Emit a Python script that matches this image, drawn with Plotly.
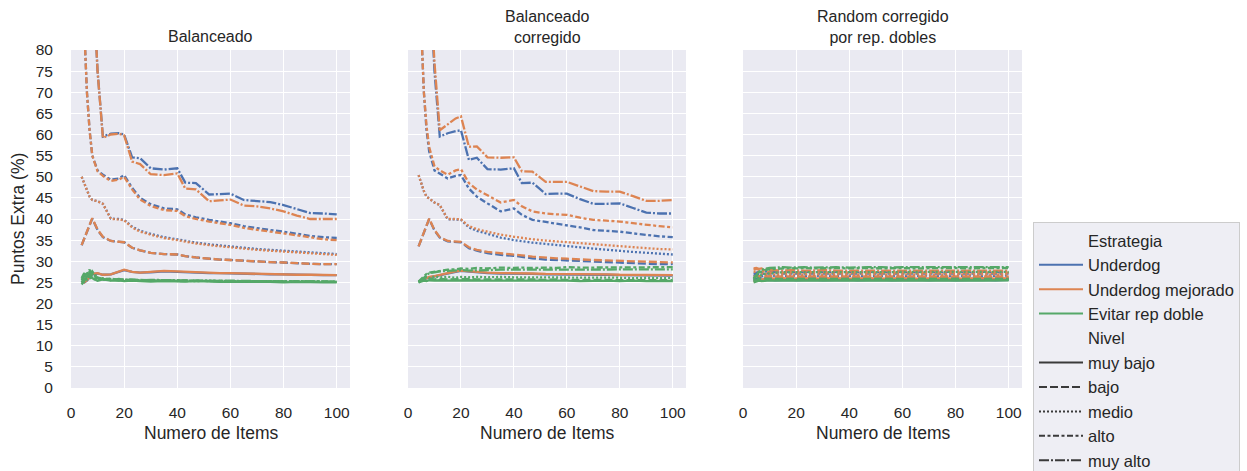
import plotly.graph_objects as go

W, H = 1247, 471

# ---------------- data ----------------
X = [4, 5, 6, 7, 8, 10, 12, 15, 18, 20, 23, 26, 30, 35, 40, 43, 47, 52, 56, 60, 65, 70, 75, 80, 85, 90, 95, 100]

STRATS = ["Underdog", "Underdog mejorado", "Evitar rep doble"]
LEVELS = ["muy bajo", "bajo", "medio", "alto", "muy alto"]
PANEL_TITLES = ["Balanceado", "Balanceado<br>corregido", "Random corregido<br>por rep. dobles"]
X_TICKS = [0, 20, 40, 60, 80, 100]
Y_TICKS = [0, 5, 10, 15, 20, 25, 30, 35, 40, 45, 50, 55, 60, 65, 70, 75, 80]

# Panel 1: Balanceado
bal_und_muybajo = [25.2, 25.0, 25.4, 26.2, 26.9, 27.1, 26.8, 26.9, 27.4, 27.9, 27.5, 27.3, 27.4, 27.6, 27.5, 27.4, 27.3, 27.2, 27.2, 27.1, 27.0, 27.0, 26.9, 26.9, 26.8, 26.8, 26.7, 26.7]
bal_und_bajo = [33.8, 35.5, 37.2, 38.8, 40.1, 37.4, 35.7, 34.8, 34.6, 34.5, 33.2, 32.6, 32.0, 31.7, 31.6, 31.2, 30.9, 30.6, 30.4, 30.3, 30.1, 30.0, 29.8, 29.7, 29.5, 29.4, 29.3, 29.3]
bal_und_medio = [50.0, 48.5, 46.8, 45.3, 44.5, 44.2, 43.6, 40.1, 40.0, 39.8, 38.2, 37.2, 36.5, 35.7, 35.2, 34.8, 34.4, 34.0, 33.7, 33.5, 33.2, 32.9, 32.7, 32.5, 32.2, 32.0, 31.8, 31.7]
bal_und_alto = [100, 84, 70, 61, 55, 51.5, 50.5, 49.3, 49.6, 50.4, 47.4, 45.0, 43.5, 42.5, 42.3, 41.1, 40.4, 39.8, 39.4, 39.0, 38.3, 37.8, 37.4, 37.0, 36.5, 36.0, 35.7, 35.5]
bal_und_muyalto = [160, 150, 135, 120, 100, 75, 59.5, 60.2, 60.3, 60.0, 54.6, 54.4, 52.0, 51.7, 52.0, 48.6, 48.5, 45.8, 45.9, 46.0, 44.5, 44.3, 44.0, 43.3, 42.3, 41.4, 41.3, 41.1]

bal_mej_muybajo = [25.3, 25.0, 25.5, 26.3, 27.0, 27.2, 26.8, 26.9, 27.5, 28.0, 27.5, 27.3, 27.5, 27.7, 27.6, 27.5, 27.4, 27.3, 27.2, 27.2, 27.1, 27.0, 26.9, 26.9, 26.8, 26.8, 26.7, 26.7]
bal_mej_bajo = [33.8, 35.5, 37.2, 38.8, 40.2, 37.5, 35.8, 34.8, 34.6, 34.5, 33.2, 32.6, 32.0, 31.7, 31.6, 31.2, 30.9, 30.6, 30.4, 30.3, 30.1, 30.0, 29.8, 29.7, 29.5, 29.4, 29.3, 29.3]
bal_mej_medio = [50.0, 48.5, 46.8, 45.3, 44.5, 44.2, 43.6, 40.0, 39.9, 39.7, 38.0, 37.0, 36.3, 35.5, 35.0, 34.6, 34.2, 33.8, 33.5, 33.3, 33.0, 32.7, 32.5, 32.3, 32.0, 31.8, 31.6, 31.5]
bal_mej_alto = [100, 84, 70, 61, 55, 51.3, 50.2, 49.0, 49.3, 50.0, 47.0, 44.6, 43.1, 42.1, 41.9, 40.7, 40.0, 39.4, 39.0, 38.6, 37.9, 37.4, 37.0, 36.6, 36.1, 35.6, 35.2, 35.0]
bal_mej_muyalto = [160, 150, 135, 120, 100, 75, 59.2, 60.0, 60.2, 59.8, 53.6, 53.0, 50.6, 50.4, 50.8, 47.2, 47.0, 44.2, 44.4, 44.6, 43.2, 43.0, 42.5, 41.8, 40.8, 40.0, 40.0, 40.0]

bal_evi_muybajo = [24.5, 25.3, 26.3, 27.2, 26.0, 25.4, 25.7, 25.4, 25.5, 25.3, 25.4, 25.3, 25.2, 25.3, 25.2, 25.2, 25.3, 25.2, 25.1, 25.2, 25.1, 25.1, 25.1, 25.0, 25.1, 25.0, 25.0, 25.0]
bal_evi_bajo = [25.5, 26.4, 27.6, 26.4, 25.5, 26.2, 25.6, 25.8, 25.4, 25.6, 25.5, 25.4, 25.5, 25.4, 25.4, 25.3, 25.4, 25.3, 25.3, 25.3, 25.2, 25.3, 25.2, 25.2, 25.2, 25.2, 25.1, 25.1]
bal_evi_medio = [26.0, 25.0, 26.8, 27.5, 27.0, 25.8, 26.0, 25.6, 25.7, 25.5, 25.6, 25.5, 25.4, 25.5, 25.4, 25.4, 25.3, 25.4, 25.3, 25.3, 25.3, 25.2, 25.3, 25.2, 25.2, 25.2, 25.2, 25.2]
bal_evi_alto = [25.0, 26.0, 27.0, 28.0, 26.8, 26.2, 25.7, 25.9, 25.6, 25.7, 25.5, 25.6, 25.5, 25.4, 25.5, 25.4, 25.4, 25.3, 25.4, 25.3, 25.3, 25.3, 25.2, 25.3, 25.2, 25.2, 25.2, 25.2]
bal_evi_muyalto = [26.0, 27.2, 25.5, 26.5, 27.6, 26.0, 25.8, 25.5, 25.8, 25.6, 25.7, 25.5, 25.6, 25.5, 25.4, 25.5, 25.4, 25.4, 25.3, 25.4, 25.3, 25.3, 25.3, 25.2, 25.3, 25.2, 25.2, 25.2]

# Panel 2: Balanceado corregido
cor_und_muybajo = [25.1, 25.4, 25.7, 25.9, 26.2, 26.4, 26.7, 27.2, 27.5, 27.7, 27.5, 27.4, 27.2, 27.1, 27.1, 27.0, 27.0, 26.9, 26.9, 26.9, 26.8, 26.8, 26.8, 26.7, 26.7, 26.7, 26.6, 26.6]
cor_und_bajo = [33.5, 35.2, 37.0, 38.6, 40.0, 37.3, 35.6, 34.7, 34.6, 34.5, 33.1, 32.5, 31.9, 31.5, 31.3, 31.0, 30.7, 30.4, 30.3, 30.2, 30.0, 29.9, 29.7, 29.6, 29.5, 29.4, 29.3, 29.3]
cor_und_medio = [50.4, 48.5, 46.6, 45.3, 44.8, 43.9, 43.3, 39.9, 39.9, 39.8, 38.0, 37.2, 36.5, 35.6, 35.0, 34.7, 34.4, 34.1, 33.9, 33.7, 33.3, 33.0, 32.7, 32.4, 32.2, 32.0, 31.8, 31.6]
cor_und_alto = [100, 84, 70, 61, 56, 51.5, 50.8, 49.6, 50.2, 50.4, 47.2, 45.3, 43.7, 41.8, 42.5, 41.0, 39.8, 39.3, 38.9, 38.6, 38.0, 37.4, 37.2, 37.0, 36.6, 36.2, 35.9, 35.7]
cor_und_muyalto = [160, 150, 135, 120, 100, 75, 59.5, 60.3, 60.8, 61.0, 54.0, 54.5, 51.8, 51.7, 52.0, 48.5, 48.6, 45.9, 46.0, 46.0, 44.7, 43.6, 43.6, 43.7, 42.6, 41.5, 41.3, 41.3]

cor_mej_muybajo = [25.2, 25.5, 25.8, 26.0, 26.3, 26.5, 26.8, 27.3, 27.6, 27.8, 27.6, 27.5, 27.3, 27.2, 27.2, 27.1, 27.1, 27.0, 27.0, 27.0, 26.9, 26.9, 26.9, 26.8, 26.8, 26.8, 26.7, 26.7]
cor_mej_bajo = [33.5, 35.2, 37.0, 38.6, 40.1, 37.4, 35.7, 34.8, 34.7, 34.6, 33.3, 32.7, 32.2, 31.9, 31.7, 31.4, 31.1, 30.8, 30.7, 30.6, 30.4, 30.3, 30.2, 30.1, 29.9, 29.8, 29.7, 29.7]
cor_mej_medio = [50.4, 48.5, 46.6, 45.3, 44.8, 43.9, 43.3, 40.0, 40.0, 39.9, 38.3, 37.6, 37.0, 36.3, 35.8, 35.5, 35.2, 34.9, 34.7, 34.5, 34.2, 34.0, 33.7, 33.5, 33.3, 33.1, 32.9, 32.8]
cor_mej_alto = [100, 84, 70, 62, 57, 52.5, 51.5, 50.5, 51.5, 51.8, 48.5, 47.0, 45.7, 43.9, 44.5, 43.0, 41.8, 41.3, 41.1, 41.0, 40.3, 39.8, 39.6, 39.4, 39.0, 38.6, 38.3, 38.0]
cor_mej_muyalto = [160, 150, 135, 120, 100, 77, 61.0, 62.5, 63.8, 64.3, 57.1, 57.2, 54.6, 54.5, 54.6, 51.3, 51.2, 48.8, 48.8, 48.8, 47.7, 46.6, 46.5, 46.5, 45.4, 44.3, 44.3, 44.5]

cor_evi_muybajo = [25.0, 25.2, 25.4, 25.3, 25.5, 25.4, 25.5, 25.4, 25.5, 25.4, 25.5, 25.4, 25.4, 25.5, 25.4, 25.4, 25.4, 25.4, 25.4, 25.4, 25.3, 25.4, 25.4, 25.3, 25.4, 25.3, 25.3, 25.3]
cor_evi_bajo = [25.2, 25.5, 25.8, 25.6, 25.9, 25.7, 25.8, 25.7, 25.8, 25.7, 25.8, 25.7, 25.7, 25.8, 25.7, 25.7, 25.7, 25.6, 25.7, 25.6, 25.6, 25.6, 25.6, 25.6, 25.6, 25.5, 25.6, 25.5]
cor_evi_medio = [25.0, 25.5, 26.0, 26.3, 26.0, 26.4, 26.2, 26.3, 26.1, 26.3, 26.2, 26.3, 26.2, 26.3, 26.2, 26.2, 26.2, 26.2, 26.1, 26.2, 26.1, 26.1, 26.1, 26.1, 26.0, 26.1, 26.0, 26.0]
cor_evi_alto = [25.2, 25.8, 26.5, 27.0, 27.3, 27.5, 27.8, 28.0, 28.1, 28.3, 28.2, 28.4, 28.3, 28.5, 28.4, 28.5, 28.4, 28.5, 28.4, 28.6, 28.5, 28.5, 28.6, 28.5, 28.6, 28.6, 28.5, 28.6]
cor_evi_muyalto = [25.0, 25.6, 26.2, 26.8, 27.2, 27.4, 27.6, 27.7, 27.8, 27.9, 27.8, 27.9, 27.9, 28.0, 27.9, 28.0, 28.0, 28.0, 28.0, 28.1, 28.0, 28.1, 28.0, 28.1, 28.1, 28.1, 28.0, 28.1]

# Panel 3: Random corregido por rep. dobles
ran_und_muybajo = [25.3, 25.5, 25.4, 25.6, 25.5, 25.6, 25.5, 25.6, 25.6, 25.5, 25.6, 25.6, 25.5, 25.6, 25.6, 25.5, 25.6, 25.6, 25.5, 25.6, 25.6, 25.5, 25.6, 25.5, 25.6, 25.6, 25.5, 25.6]
ran_und_bajo = [25.6, 25.9, 26.0, 26.1, 26.0, 26.1, 26.2, 26.1, 26.1, 26.2, 26.1, 26.1, 26.2, 26.1, 26.1, 26.2, 26.1, 26.1, 26.2, 26.1, 26.1, 26.1, 26.2, 26.1, 26.1, 26.1, 26.1, 26.1]
ran_und_medio = [26.0, 26.3, 26.5, 26.4, 26.6, 26.5, 26.6, 26.5, 26.6, 26.6, 26.5, 26.6, 26.6, 26.5, 26.6, 26.6, 26.5, 26.6, 26.6, 26.5, 26.6, 26.6, 26.5, 26.6, 26.6, 26.5, 26.6, 26.6]
ran_und_alto = [26.5, 26.9, 27.0, 27.1, 27.0, 27.1, 27.2, 27.1, 27.1, 27.2, 27.1, 27.1, 27.2, 27.1, 27.1, 27.2, 27.1, 27.1, 27.2, 27.1, 27.1, 27.2, 27.1, 27.1, 27.2, 27.1, 27.1, 27.1]
ran_und_muyalto = [27.0, 27.3, 27.5, 27.4, 27.6, 27.5, 27.5, 27.6, 27.5, 27.5, 27.6, 27.5, 27.5, 27.6, 27.5, 27.5, 27.6, 27.5, 27.5, 27.6, 27.5, 27.5, 27.6, 27.5, 27.5, 27.5, 27.6, 27.5]

ran_mej_muybajo = [25.2, 25.4, 25.6, 25.7, 25.8, 25.9, 25.9, 26.0, 25.9, 26.0, 26.0, 25.9, 26.0, 26.0, 25.9, 26.0, 26.0, 25.9, 26.0, 26.0, 25.9, 26.0, 26.0, 25.9, 26.0, 26.0, 25.9, 26.0]
ran_mej_bajo = [26.3, 26.5, 26.4, 26.6, 26.4, 26.5, 26.4, 26.4, 26.5, 26.4, 26.4, 26.5, 26.4, 26.4, 26.5, 26.4, 26.4, 26.4, 26.5, 26.4, 26.4, 26.4, 26.5, 26.4, 26.4, 26.4, 26.4, 26.4]
ran_mej_medio = [27.5, 27.6, 27.4, 27.2, 27.0, 26.9, 26.9, 26.8, 26.9, 26.9, 26.8, 26.9, 26.9, 26.8, 26.9, 26.9, 26.8, 26.9, 26.9, 26.8, 26.9, 26.9, 26.8, 26.9, 26.9, 26.8, 26.9, 26.9]
ran_mej_alto = [28.0, 28.2, 28.0, 27.8, 27.6, 27.4, 27.3, 27.3, 27.4, 27.3, 27.3, 27.4, 27.3, 27.3, 27.3, 27.4, 27.3, 27.3, 27.3, 27.4, 27.3, 27.3, 27.3, 27.3, 27.4, 27.3, 27.3, 27.3]
ran_mej_muyalto = [28.3, 28.4, 28.2, 28.3, 28.0, 27.9, 27.8, 27.8, 27.9, 27.8, 27.8, 27.8, 27.9, 27.8, 27.8, 27.8, 27.8, 27.9, 27.8, 27.8, 27.8, 27.8, 27.8, 27.9, 27.8, 27.8, 27.8, 27.8]

ran_evi_muybajo = [25.0, 25.2, 25.4, 25.3, 25.4, 25.5, 25.4, 25.5, 25.4, 25.5, 25.4, 25.5, 25.5, 25.4, 25.5, 25.5, 25.4, 25.5, 25.5, 25.4, 25.5, 25.5, 25.4, 25.5, 25.5, 25.4, 25.5, 25.5]
ran_evi_bajo = [25.3, 25.6, 25.8, 25.7, 25.9, 25.8, 25.8, 25.9, 25.8, 25.8, 25.9, 25.8, 25.8, 25.8, 25.9, 25.8, 25.8, 25.8, 25.9, 25.8, 25.8, 25.8, 25.8, 25.9, 25.8, 25.8, 25.8, 25.8]
ran_evi_medio = [25.5, 26.0, 26.5, 26.8, 27.0, 27.2, 27.3, 27.4, 27.4, 27.5, 27.4, 27.5, 27.5, 27.4, 27.5, 27.5, 27.5, 27.4, 27.5, 27.5, 27.5, 27.5, 27.4, 27.5, 27.5, 27.5, 27.5, 27.5]
ran_evi_alto = [25.8, 26.5, 27.2, 27.6, 27.9, 28.1, 28.2, 28.3, 28.4, 28.3, 28.4, 28.3, 28.4, 28.4, 28.3, 28.4, 28.4, 28.3, 28.4, 28.4, 28.3, 28.4, 28.4, 28.4, 28.3, 28.4, 28.4, 28.4]
ran_evi_muyalto = [26.0, 26.8, 27.5, 27.9, 28.2, 28.4, 28.5, 28.6, 28.5, 28.6, 28.6, 28.5, 28.6, 28.6, 28.5, 28.6, 28.6, 28.6, 28.5, 28.6, 28.6, 28.6, 28.5, 28.6, 28.6, 28.6, 28.6, 28.6]

PANELS = [
    [[bal_und_muybajo, bal_und_bajo, bal_und_medio, bal_und_alto, bal_und_muyalto],
     [bal_mej_muybajo, bal_mej_bajo, bal_mej_medio, bal_mej_alto, bal_mej_muyalto],
     [bal_evi_muybajo, bal_evi_bajo, bal_evi_medio, bal_evi_alto, bal_evi_muyalto]],
    [[cor_und_muybajo, cor_und_bajo, cor_und_medio, cor_und_alto, cor_und_muyalto],
     [cor_mej_muybajo, cor_mej_bajo, cor_mej_medio, cor_mej_alto, cor_mej_muyalto],
     [cor_evi_muybajo, cor_evi_bajo, cor_evi_medio, cor_evi_alto, cor_evi_muyalto]],
    [[ran_und_muybajo, ran_und_bajo, ran_und_medio, ran_und_alto, ran_und_muyalto],
     [ran_mej_muybajo, ran_mej_bajo, ran_mej_medio, ran_mej_alto, ran_mej_muyalto],
     [ran_evi_muybajo, ran_evi_bajo, ran_evi_medio, ran_evi_alto, ran_evi_muyalto]],
]

# ---------------- style ----------------
COLORS = ["#4C72B0", "#DD8452", "#55A868"]
DASHES = ["solid", "8px,3px", "2px,2px", "6px,2.5px,3px,2.5px", "10px,2px,2px,2px"]
FONT = "Liberation Sans, Arial, sans-serif"
TXT = "#262626"
LW = 2.3

# pixel layout
PX = [(71, 350), (408, 686), (743, 1022)]
Y_TOP, Y_BOT = 50, 388

fig = go.Figure()
axis_ids = [("x", "y"), ("x2", "y2"), ("x3", "y3")]
for p, (xa, ya) in enumerate(axis_ids):
    for s in range(3):
        for l in range(5):
            fig.add_trace(go.Scatter(
                x=X, y=PANELS[p][s][l], xaxis=xa, yaxis=ya, mode="lines",
                line=dict(color=COLORS[s], width=LW, dash=DASHES[l]),
                showlegend=False, hoverinfo="skip"))

# legend entries
def leg(name, color, dash="solid"):
    fig.add_trace(go.Scatter(x=[None], y=[None], mode="lines", name=name,
                             line=dict(color=color, width=2, dash=dash), showlegend=True))

leg("Estrategia", "rgba(0,0,0,0)")
for s, c in zip(STRATS, COLORS):
    leg(s, c)
leg("Nivel", "rgba(0,0,0,0)")
for lv, d in zip(LEVELS, DASHES):
    leg(lv, "#3a3a3a", d)

ydom = [1 - Y_BOT / H, 1 - Y_TOP / H]
layout = dict(
    width=W, height=H,
    margin=dict(l=0, r=0, t=0, b=0, autoexpand=False),
    paper_bgcolor="white", plot_bgcolor="#EAEAF2",
    font=dict(family=FONT, color=TXT, size=15.5),
    showlegend=True,
    legend=dict(x=1033 / W, y=1 - 222 / H, xanchor="left", yanchor="top",
                bgcolor="rgba(238,238,244,1)", bordercolor="#CCCCCC", borderwidth=1,
                font=dict(size=16.5, color=TXT, family=FONT), traceorder="normal",
                itemwidth=44, itemclick=False, itemdoubleclick=False),
)
for i, (xa, ya) in enumerate(axis_ids):
    xk = "xaxis" if i == 0 else f"xaxis{i+1}"
    yk = "yaxis" if i == 0 else f"yaxis{i+1}"
    layout[xk] = dict(domain=[PX[i][0] / W, PX[i][1] / W], range=[0, 105], anchor=ya,
                      tickvals=X_TICKS, ticktext=[str(t) for t in X_TICKS],
                      showgrid=True, gridcolor="white", gridwidth=1.3, zeroline=False,
                      showline=False, ticks="outside", ticklen=10, tickcolor="rgba(0,0,0,0)",
                      tickfont=dict(size=15.5, color=TXT, family=FONT))
    layout[yk] = dict(domain=ydom, range=[0, 80], anchor=xa,
                      tickvals=Y_TICKS, ticktext=[str(t) for t in Y_TICKS],
                      showticklabels=(i == 0),
                      showgrid=True, gridcolor="white", gridwidth=1.3, zeroline=False,
                      showline=False, ticks="outside" if i == 0 else "", ticklen=14,
                      tickcolor="rgba(0,0,0,0)",
                      tickfont=dict(size=15.5, color=TXT, family=FONT))
    if i > 0:
        layout[yk]["matches"] = "y"

annotations = []
for i, t in enumerate(PANEL_TITLES):
    cx = (PX[i][0] + PX[i][1]) / 2 / W
    nlines = t.count("<br>") + 1
    cy = 37 if nlines == 1 else 27
    annotations.append(dict(text=t, x=cx, y=1 - cy / H, xref="paper", yref="paper",
                            xanchor="center", yanchor="middle", showarrow=False,
                            font=dict(size=16, color=TXT, family=FONT)))
    annotations.append(dict(text="Numero de Items", x=cx, y=1 - 433 / H, xref="paper", yref="paper",
                            xanchor="center", yanchor="middle", showarrow=False,
                            font=dict(size=17.5, color=TXT, family=FONT)))
annotations.append(dict(text="Puntos Extra (%)", x=18 / W, y=1 - 219 / H, xref="paper", yref="paper",
                        xanchor="center", yanchor="middle", textangle=-90, showarrow=False,
                        font=dict(size=17.5, color=TXT, family=FONT)))
layout["annotations"] = annotations

fig.update_layout(**layout)
fig.write_html("out.html")
